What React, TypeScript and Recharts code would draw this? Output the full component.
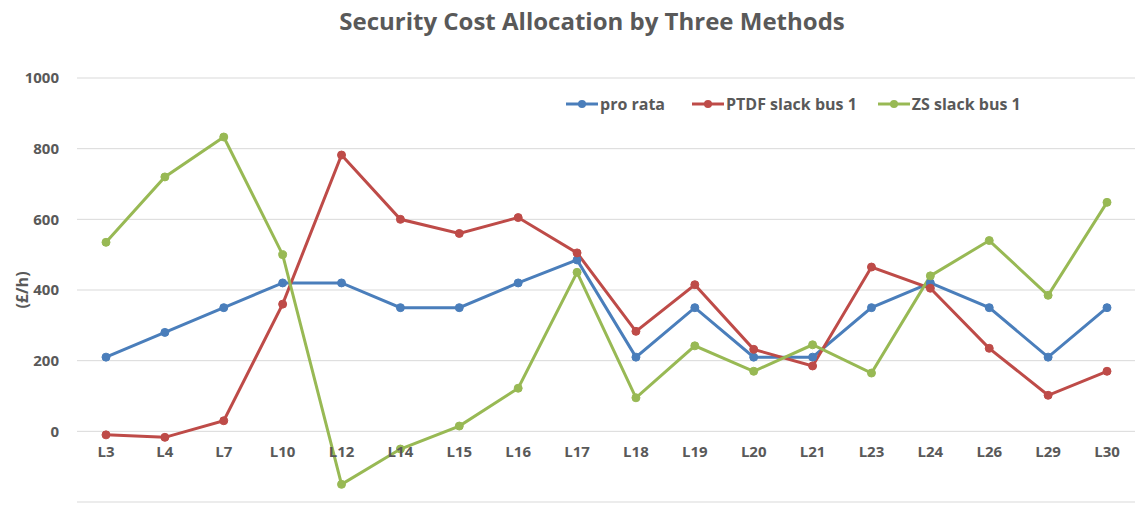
import React from "react";
import {
  LineChart,
  Line,
  XAxis,
  YAxis,
  CartesianGrid,
  Legend,
} from "recharts";

const categories = [
  "L3", "L4", "L7", "L10", "L12", "L14", "L15", "L16", "L17",
  "L18", "L19", "L20", "L21", "L23", "L24", "L26", "L29", "L30",
];

const proRata = [210, 280, 350, 420, 420, 350, 350, 420, 485, 210, 350, 210, 210, 350, 420, 350, 210, 350];
const ptdfSlack1 = [-10, -17, 30, 360, 782, 600, 560, 605, 505, 283, 415, 232, 185, 465, 405, 235, 102, 170];
const zsSlack1 = [535, 720, 833, 500, -150, -50, 15, 122, 450, 95, 242, 170, 245, 165, 440, 540, 385, 648];

const yTicks = [-200, 0, 200, 400, 600, 800, 1000];

const series = [
  { key: "proRata", name: "pro rata", color: "#4A7EBB", values: proRata },
  { key: "ptdf", name: "PTDF slack bus 1", color: "#BE4B48", values: ptdfSlack1 },
  { key: "zs", name: "ZS slack bus 1", color: "#98B954", values: zsSlack1 },
];

const data = categories.map((c, i) => {
  const row: any = { name: c };
  series.forEach((s) => (row[s.key] = s.values[i]));
  return row;
});

const FONT = "'Open Sans', sans-serif";
const GREY = "#595959";

// x labels sit just under the zero gridline, as in the original
function XTick(props: any) {
  const { x, y, payload } = props;
  return (
    <text x={x} y={y} dy={-53} textAnchor="middle" fill={GREY} fontSize={15} fontWeight={700} fontFamily={FONT}>
      {payload.value}
    </text>
  );
}

function LegendBox() {
  return (
    <div style={{ display: "flex", fontFamily: FONT, fontSize: 16, fontWeight: 700, color: GREY, whiteSpace: "nowrap" }}>
      {series.map((s, i) => (
        <div key={s.key} style={{ display: "flex", alignItems: "center", marginRight: i === 0 ? 26 : 20 }}>
          <svg width={34} height={12}>
            <line x1={1} y1={6} x2={33} y2={6} stroke={s.color} strokeWidth={3} />
            <circle cx={17} cy={6} r={4} fill={s.color} />
          </svg>
          <span style={{ marginLeft: 1 }}>{s.name}</span>
        </div>
      ))}
    </div>
  );
}

export default function App() {
  return (
    <div style={{ position: "absolute", left: 0, top: 0, width: 1135, height: 508, background: "#fff", overflow: "hidden" }}>
      <div
        style={{
          position: "absolute",
          left: 0,
          top: 4,
          width: 1184,
          textAlign: "center",
          fontFamily: FONT,
          fontSize: 24,
          fontWeight: 700,
          color: GREY,
        }}
      >
        Security Cost Allocation by Three Methods
      </div>
      <LineChart width={1136} height={508} data={data} margin={{ top: 78, right: 0, bottom: 5, left: 0 }}>
        <CartesianGrid vertical={false} stroke="#d9d9d9" strokeWidth={1} />
        <XAxis
          dataKey="name"
          height={1}
          axisLine={false}
          tickLine={false}
          tick={<XTick />}
          interval={0}
          padding={{ left: 29, right: 29 }}
        />
        <YAxis
          width={77}
          domain={[-200, 1000]}
          ticks={yTicks}
          axisLine={false}
          tickLine={false}
          tickMargin={12}
          tick={{ fill: GREY, fontSize: 15, fontWeight: 700, fontFamily: FONT }}
          label={{
            value: "(£/h)",
            angle: -90,
            position: "insideLeft",
            offset: 22,
            style: { fill: GREY, fontSize: 16, fontWeight: 700, fontFamily: FONT, textAnchor: "middle" },
          }}
        />
        <Legend
          verticalAlign="middle"
          align="center"
          wrapperStyle={{ left: 565, top: 93, width: "auto" }}
          content={() => <LegendBox />}
        />
        {series.map((s) => (
          <Line
            key={s.key}
            dataKey={s.key}
            name={s.name}
            type="linear"
            stroke={s.color}
            strokeWidth={3}
            dot={{ r: 4, fill: s.color, stroke: s.color, strokeWidth: 1 }}
            activeDot={false}
            isAnimationActive={false}
          />
        ))}
      </LineChart>
    </div>
  );
}
